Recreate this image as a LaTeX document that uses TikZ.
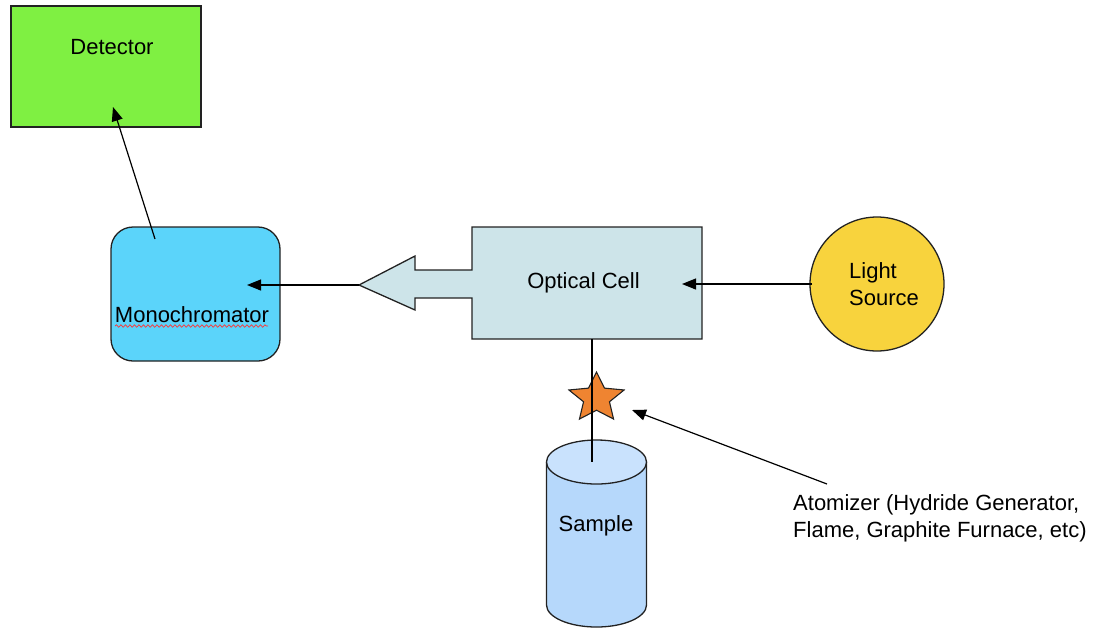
\documentclass[tikz,border=0pt]{standalone}
\usepackage{fontspec}
\setmainfont{Liberation Sans}
\usetikzlibrary{arrows.meta,decorations.pathmorphing}

\definecolor{detgreen}{HTML}{7FF042}
\definecolor{monoblue}{HTML}{5BD4FA}
\definecolor{cellblue}{HTML}{CDE4E9}
\definecolor{lampyellow}{HTML}{F8D33D}
\definecolor{starorange}{HTML}{EF8431}
\definecolor{sampleblue}{HTML}{B6D8FB}
\definecolor{sampletop}{HTML}{C9E2FD}
\definecolor{inkgray}{HTML}{222222}

\begin{document}
\begin{tikzpicture}[
  x=1pt, y=-1pt,
  font=\fontsize{22}{27}\selectfont,
  outline/.style={draw=inkgray, line width=1.3pt},
  label/.style={inner sep=0pt, text=black},
  conn/.style={draw=black, line width=1.2pt, -{Triangle[length=14pt,width=11pt]}},
  plain/.style={draw=black, line width=1.2pt},
]
\useasboundingbox (0,0) rectangle (1094,630);

% detector box
\node[outline, fill=detgreen, minimum width=190pt, minimum height=121pt, inner sep=0pt] (det) at (106,66.5) {};
\node[label] (detlabel) at (112,47) {Detector};

% monochromator (rounded box)
\node[outline, fill=monoblue, rounded corners=22pt, minimum width=169pt, minimum height=134pt, inner sep=0pt] (mono) at (195.5,294) {};
\node[label] (monolabel) at (192,315) {Monochromator};
\draw[red!80!white, line width=0.7pt, decorate, decoration={snake, amplitude=1.2pt, segment length=4.5pt}]
  (115,326) -- (268,326);

% optical cell with its output arrow as one outline
\node[inner sep=0pt, minimum width=230pt, minimum height=112pt] (cell) at (587,283) {};
\draw[outline, fill=cellblue, line join=miter]
  (359,285) -- (415,256) -- (415,270) -- (472,270) -- (472,227) -- (702,227)
  -- (702,339) -- (472,339) -- (472,298) -- (415,298) -- (415,310) -- cycle;
\node[label] (celllabel) at (583.5,283) {Optical Cell};
\coordinate (celltip) at (359,285);

% light source
\node[outline, circle, fill=lampyellow, minimum size=134pt, inner sep=0pt] (lamp) at (877,284) {};
\node[label, align=left] (lamplabel) at (884,284) {Light\\Source};

% sample cylinder
\fill[sampleblue] (546.5,462) -- (546.5,605) arc[start angle=180, end angle=360, x radius=50pt, y radius=22pt]
  -- (646.5,462) -- cycle;
\draw[outline] (546.5,462) -- (546.5,605) arc[start angle=180, end angle=360, x radius=50pt, y radius=22pt]
  -- (646.5,462);
\draw[outline, fill=sampletop] (596.5,462) ellipse[x radius=50pt, y radius=22pt];
\node[inner sep=0pt, minimum width=100pt, minimum height=166pt] (sample) at (596.5,533) {};
\node[label] (samplelabel) at (596,526) {Sample};

% atomizer star
\draw[draw=inkgray, line width=1.1pt, fill=starorange, line join=miter, shift={(596.5,398)}, xscale=29, yscale=26]
  (-90:1) -- (-54:0.47) -- (-18:1) -- (18:0.47) -- (54:1) -- (90:0.47)
  -- (126:1) -- (162:0.47) -- (198:1) -- (234:0.47) -- cycle;
\coordinate (startip) at (632,410);

% atomizer note
\node[label, align=left, anchor=west] (atomlabel) at (793,518)
  {Atomizer (Hydride Generator,\\Flame, Graphite Furnace, etc)};
\coordinate (atomfrom) at (827,484);

% light path and feed line
\coordinate (lampout) at (812,284);
\coordinate (cellin) at (682,284);
\coordinate (monoin) at (247,285);
\coordinate (monoout) at (155,239);
\coordinate (detin) at (113,107);
\coordinate (cellbottom) at (592,339);
\coordinate (sampletopc) at (592,462);

\draw[conn] (lampout) -- (cellin);
\draw[conn] (celltip) -- (monoin);
\draw[conn] (monoout) -- (detin);
\draw[plain] (cellbottom) -- (sampletopc);
\draw[conn] (atomfrom) -- (startip);
\end{tikzpicture}
\end{document}
